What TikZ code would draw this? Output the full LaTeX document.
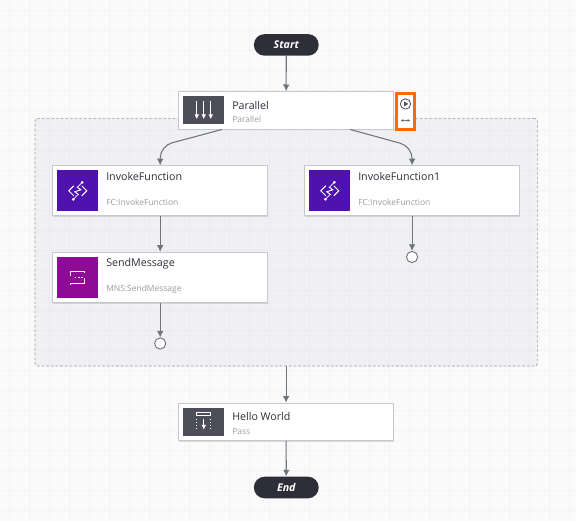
\documentclass[tikz,border=0pt]{standalone}
\usepackage{fontspec}
\setmainfont{Open Sans}
\usetikzlibrary{arrows.meta,calc,shadows}
\definecolor{bgc}{HTML}{FAFAFA}
\definecolor{gridc}{HTML}{F4F4F5}
\definecolor{groupc}{HTML}{F0F0F3}
\definecolor{groupg}{HTML}{EBEBEE}
\definecolor{edgec}{HTML}{6E747C}
\definecolor{boxb}{HTML}{C6C8D0}
\definecolor{termc}{HTML}{2D2E38}
\definecolor{darkic}{HTML}{4D4E5A}
\definecolor{fcc}{HTML}{4F12AE}
\definecolor{mnsc}{HTML}{8F0A96}
\definecolor{subc}{HTML}{9A9CA3}
\definecolor{titc}{HTML}{2B2F38}
\definecolor{orangec}{HTML}{FF6A00}
\tikzset{
  x=0.75pt,y=-0.75pt,
  edge/.style={draw=edgec,line width=0.8pt,-{Latex[length=5pt,width=5pt]}},
  terminal/.style={rounded corners=8pt,fill=termc,draw=none,text=white,font=\bfseries\itshape\fontsize{8}{10}\selectfont,minimum width=48.6pt,minimum height=16.2pt,inner sep=0pt},
  statebox/.style={draw=boxb,fill=white,line width=0.7pt,inner sep=0pt,minimum width=161.25pt,drop shadow={shadow xshift=0pt,shadow yshift=-1pt,opacity=0.12,fill=black}},
  icon/.style={inner sep=0pt,minimum width=30.75pt,draw=none},
  title/.style={anchor=base west,inner sep=0pt,text=titc,font=\fontsize{8}{10}\selectfont},
  sub/.style={anchor=base west,inner sep=0pt,text=subc,font=\fontsize{6.35}{8}\selectfont},
  endc/.style={circle,draw=edgec,fill=white,line width=0.7pt,minimum size=8.4pt,inner sep=0pt},
  iconl/.style={draw=white,line width=0.7pt},
}
\begin{document}
\begin{tikzpicture}
\useasboundingbox (0,0) rectangle (576,521);
\fill[bgc] (0,0) rectangle (576,521);
\foreach \i in {0,20,...,560} {\draw[gridc,line width=0.4pt] (\i+9,0) -- (\i+9,521);}
\foreach \i in {0,20,...,520} {\draw[gridc,line width=0.4pt] (0,\i+10) -- (576,\i+10);}
% group
\node[draw=subc,dash pattern=on 2pt off 1.5pt,fill=groupc,rounded corners=2pt,line width=0.5pt,inner sep=0pt,minimum width=376.7pt,minimum height=185.8pt] (grp) at (286.2,242.2) {};
\begin{scope}
\clip ([shift={(1,-1)}]grp.south west) rectangle ([shift={(-1,1)}]grp.north east);
\foreach \i in {40,60,...,520} {\draw[groupg,line width=0.4pt] (\i+9,119) -- (\i+9,365);}
\foreach \i in {120,140,...,360} {\draw[groupg,line width=0.4pt] (36,\i+10) -- (536,\i+10);}
\end{scope}
% terminals
\node[terminal] (start) at (286.3,44.9) {Start};
\node[terminal] (end) at (286.3,487.5) {End};
% state boxes
\node[statebox,minimum height=28pt] (par) at (286.1,110.3) {};
\node[statebox,minimum height=37.5pt] (inv) at (160.2,190.8) {};
\node[statebox,minimum height=37.5pt] (snd) at (160.2,277.3) {};
\node[statebox,minimum height=37.5pt] (inv1) at (412.1,190.8) {};
\node[statebox,minimum height=28pt] (hel) at (286.1,421.8) {};
% icons
\node[icon,fill=darkic,minimum height=21.2pt] (ipar) at (203.8,110.2) {};
\node[icon,fill=darkic,minimum height=21.2pt] (ihel) at (203.8,421.7) {};
\node[icon,fill=fcc,minimum height=30.75pt] (iinv) at (77.8,190.8) {};
\node[icon,fill=mnsc,minimum height=30.75pt] (isnd) at (77.8,277.2) {};
\node[icon,fill=fcc,minimum height=30.75pt] (iinv1) at (329.8,190.8) {};
% parallel icon
\foreach \dx in {-7,0,7} {
  \draw[draw=white,line width=0.8pt,-{Latex[length=3.6pt,width=3.6pt]}] ([shift={(\dx,-9)}]ipar.center) -- ([shift={(\dx,9)}]ipar.center);
}
% pass icon
\draw[iconl] ([shift={(-7,-9)}]ihel.center) rectangle ([shift={(7,-6)}]ihel.center);
\draw[draw=white,line width=0.8pt,-{Latex[length=3.6pt,width=3.6pt]}] ([shift={(0,-3)}]ihel.center) -- ([shift={(0,8)}]ihel.center);
\draw[iconl,dash pattern=on 1pt off 1.2pt] ([shift={(-7,-3)}]ihel.center) -- ([shift={(-7,8)}]ihel.center);
\draw[iconl,dash pattern=on 1pt off 1.2pt] ([shift={(7,-3)}]ihel.center) -- ([shift={(7,8)}]ihel.center);
% fc icons
\foreach \c in {iinv,iinv1} {
  \draw[iconl] ([shift={(-4,-5)}]\c.center) -- ([shift={(-9,0)}]\c.center) -- ([shift={(-4,5)}]\c.center);
  \draw[iconl] ([shift={(4,-5)}]\c.center) -- ([shift={(9,0)}]\c.center) -- ([shift={(4,5)}]\c.center);
  \draw[iconl] ([shift={(-1,-4)}]\c.center) -- ([shift={(3,-1)}]\c.center) -- ([shift={(-3,1)}]\c.center) -- ([shift={(1,4)}]\c.center);
  \draw[iconl,line width=0.6pt] ([shift={(0,-4)}]\c.center) -- ([shift={(4.5,-8.5)}]\c.center);
  \draw[iconl,line width=0.6pt] ([shift={(0,4)}]\c.center) -- ([shift={(-4.5,8.5)}]\c.center);
  \fill[white] ([shift={(4.5,-8.5)}]\c.center) circle (1.5);
  \fill[white] ([shift={(-4.5,8.5)}]\c.center) circle (1.5);
}
% mns icon
\draw[iconl] ([shift={(-7,-1)}]isnd.center) -- ([shift={(-7,-6)}]isnd.center) -- ([shift={(7,-6)}]isnd.center) -- ([shift={(7,-4)}]isnd.center);
\draw[iconl] ([shift={(7,1)}]isnd.center) -- ([shift={(7,6)}]isnd.center) -- ([shift={(-7,6)}]isnd.center) -- ([shift={(-7,8)}]isnd.center);
\draw[iconl,line width=1pt,dash pattern=on 1.2pt off 1.2pt] ([shift={(-3,0)}]isnd.center) -- ([shift={(6,0)}]isnd.center);
% texts
\node[title] (tpar) at (232,109) {Parallel};
\node[sub] (spar) at (232,122.7) {Parallel};
\node[title] (tinv) at (106,180) {InvokeFunction};
\node[sub] (sinv) at (106,205) {FC:InvokeFunction};
\node[title] (tsnd) at (106,266.7) {SendMessage};
\node[sub] (ssnd) at (106,291.7) {MNS:SendMessage};
\node[title] (tinv1) at (358,180) {InvokeFunction1};
\node[sub] (sinv1) at (358,205) {FC:InvokeFunction};
\node[title] (thel) at (232,420) {Hello World};
\node[sub] (shel) at (232,434) {Pass};
% terminals of branches
\node[endc] (e1) at (160.2,343.5) {};
\node[endc] (e2) at (412.1,257) {};
% connectors
\draw[edge] (start) -- (par);
\draw[edge,rounded corners=9pt] ([xshift=-48pt]par.south) -- (160.2,146) -- (inv.north);
\draw[edge,rounded corners=9pt] ([xshift=48pt]par.south) -- (412.1,146.5) -- (inv1.north);
\draw[edge] (inv) -- (snd);
\draw[edge] (snd) -- (e1);
\draw[edge] (inv1) -- (e2);
\draw[edge] (grp.south -| hel.north) -- (hel);
\draw[edge] (hel) -- (end);
% orange control
\node[draw=orangec,fill=white,line width=2.25pt,inner sep=0pt,minimum width=13.5pt,minimum height=27.2pt] (ctl) at (405.5,111.3) {};
\node[circle,draw=darkic,line width=0.6pt,minimum size=7.8pt,inner sep=0pt] (play) at ([yshift=5.5pt]ctl.center) {};
\fill[darkic] ([shift={(-1.4,-2.4)}]play.center) -- ([shift={(2.8,0)}]play.center) -- ([shift={(-1.4,2.4)}]play.center) -- cycle;
\coordinate (wl) at ([shift={(-4.5,9.2)}]ctl.center);
\coordinate (wr) at ([shift={(4.5,9.2)}]ctl.center);
\draw[edgec,line width=0.35pt] (wl) -- (wr);
\fill[edgec] (wl) -- ++(2.4,-1.5) -- ++(0,3) -- cycle;
\fill[edgec] (wr) -- ++(-2.4,-1.5) -- ++(0,3) -- cycle;
\end{tikzpicture}
\end{document}
